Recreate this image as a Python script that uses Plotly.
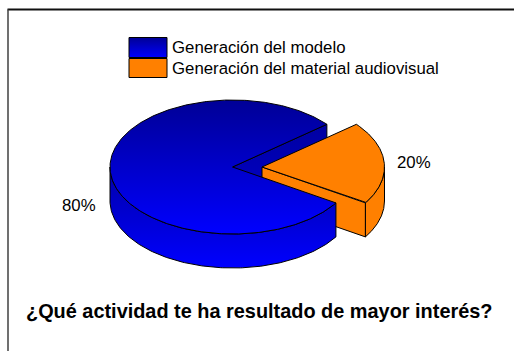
import numpy as np
import plotly.graph_objects as go

categories = ["Generación del modelo", "Generación del material audiovisual"]
values = [80, 20]
labels = ["80%", "20%"]
title_text = "¿Qué actividad te ha resultado de mayor interés?"

W, H = 514, 351
CX, CY, RX, RY, DEPTH = 232.5, 167.0, 122.5, 67.0, 34.0
EXPLODE = 29.5
MID = np.deg2rad(3.6)
sweep = 2 * np.pi * values[1] / sum(values)
A0, A1 = MID - sweep / 2, MID + sweep / 2  # orange slice


def pt(cx, t, dy=0.0):
    return cx + RX * np.cos(t), CY - RY * np.sin(t) + dy


def arc(cx, t0, t1, dy=0.0, n=160):
    t = np.linspace(t0, t1, n)
    return cx + RX * np.cos(t), CY - RY * np.sin(t) + dy


# plotly runs a vertical gradient from the lower edge of the picture upward here
BLUE_TOP = [[0, "#0000ff"], [1, "#000096"]]
BLUE_SIDE = [[0, "#0000ff"], [1, "#0000a8"]]
BLUE_WALL = [[0, "#0000c8"], [1, "#0000a0"]]
ORANGE = [[0, "#ff8000"], [1, "#ff8000"]]

fig = go.Figure()


def poly(x, y, scale):
    x = np.r_[x, x[0]]
    y = np.r_[y, y[0]]
    fig.add_trace(go.Scatter(
        x=x, y=y, mode="lines", fill="toself",
        fillgradient=dict(type="vertical", colorscale=scale),
        line=dict(color="black", width=1), hoverinfo="skip", showlegend=False))


def side(cx, t0, t1, scale):
    xa, ya = arc(cx, t0, t1)
    xb, yb = arc(cx, t1, t0, DEPTH)
    poly(np.r_[xa, xb], np.r_[ya, yb], scale)


# frame: only the top and left edges fall inside the crop
fig.add_shape(type="line", x0=7.5, y0=9.5, x1=W, y1=9.5, line=dict(color="#101010", width=2))
fig.add_shape(type="line", x0=8, y0=9.5, x1=8, y1=H, line=dict(color="#404040", width=1.5))

# blue upper cut wall
ux, uy = pt(CX, A1)
poly(np.array([CX, ux, ux, CX]), np.array([CY, uy, uy + DEPTH, CY + DEPTH]), BLUE_WALL)

# orange slice
ox = CX + EXPLODE
lx, ly = pt(ox, A0)
poly(np.array([ox, lx, lx, ox]), np.array([CY, ly, ly + DEPTH, CY + DEPTH]), ORANGE)
side(ox, A0, 0.0, ORANGE)
xa, ya = arc(ox, A0, A1)
poly(np.r_[ox, xa], np.r_[CY, ya], ORANGE)

# blue slice
side(CX, -np.pi, A0, BLUE_SIDE)
xa, ya = arc(CX, A1, A1 + 2 * np.pi - sweep, n=400)
poly(np.r_[CX, xa], np.r_[CY, ya], BLUE_TOP)

# legend swatches
for (y0, y1), scale in zip([(37.5, 57.5), (58.5, 77.5)], [BLUE_TOP, ORANGE]):
    poly(np.array([129, 167, 167, 129.0]), np.array([y0, y0, y1, y1]), scale)

font = "Liberation Sans, Arial, sans-serif"
for txt, y in zip(categories, [47.5, 68]):
    fig.add_annotation(x=170, y=y, text=txt, showarrow=False, xanchor="left", yanchor="middle",
                       font=dict(family=font, size=16.8, color="black"))
fig.add_annotation(x=79, y=205, text=labels[0], showarrow=False, font=dict(family=font, size=16.8, color="black"))
fig.add_annotation(x=414, y=162, text=labels[1], showarrow=False, font=dict(family=font, size=16.8, color="black"))
fig.add_annotation(x=24, y=310.5, text=f"<b>{title_text}</b>", showarrow=False, xanchor="left", yanchor="middle",
                   font=dict(family=font, size=19.9, color="black"))

fig.update_layout(
    width=W, height=H, margin=dict(l=0, r=0, t=0, b=0),
    paper_bgcolor="white", plot_bgcolor="white", showlegend=False,
    xaxis=dict(range=[0, W], visible=False, fixedrange=True),
    yaxis=dict(range=[H, 0], visible=False, fixedrange=True),
)
fig.write_html("out.html", config={"displayModeBar": False},
               post_script="document.body.style.margin='0';document.body.style.overflow='hidden';")
